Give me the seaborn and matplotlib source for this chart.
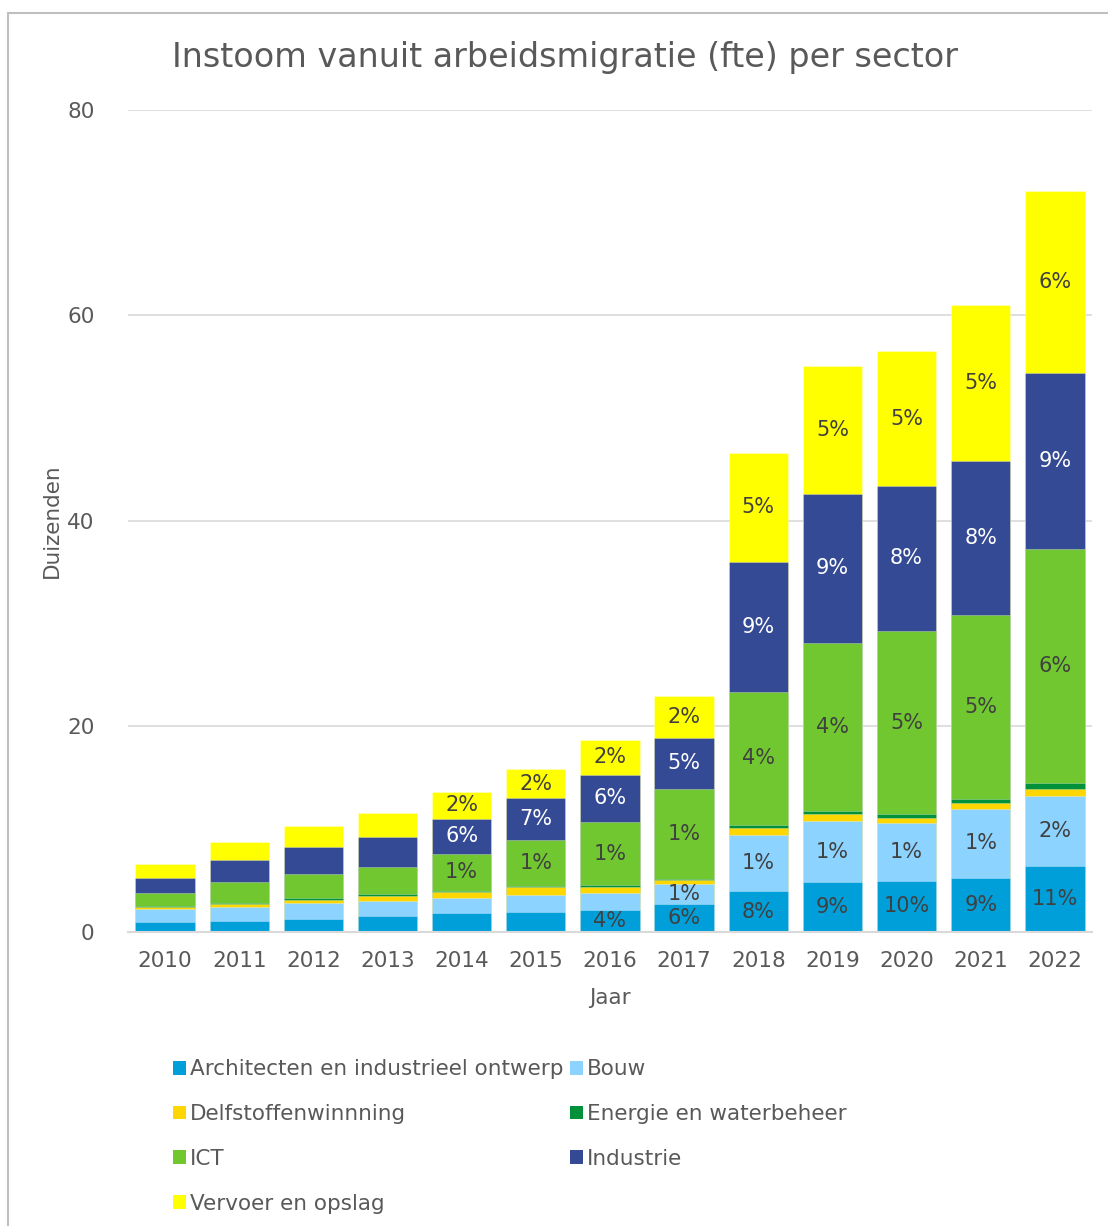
"""
Instoom vanuit arbeidsmigratie (fte) per sector, 2010-2022
stacked bars drawn with seaborn barplot (cumulative totals, back to front)
"""
import matplotlib.pyplot as plt
from matplotlib.patches import Patch, Rectangle
import numpy as np
import pandas as pd
import seaborn as sns

years = [str(y) for y in range(2010, 2023)]
sectors = ["Architecten en industrieel ontwerp", "Bouw", "Delfstoffenwinnning",
           "Energie en waterbeheer", "ICT", "Industrie", "Vervoer en opslag"]
colors = ["#009fda", "#8dd3ff", "#ffd700", "#00913a", "#70c72f", "#354a94", "#ffff00"]

# values in duizenden fte
architecten = [0.95, 1.04, 1.27, 1.52, 1.88, 1.98, 2.14, 2.72, 3.99, 4.83, 4.99, 5.28, 6.42]
bouw = [1.30, 1.42, 1.55, 1.52, 1.46, 1.62, 1.69, 1.91, 5.45, 5.97, 5.58, 6.72, 6.82]
delfstoffen = [0.20, 0.23, 0.32, 0.42, 0.58, 0.74, 0.58, 0.43, 0.71, 0.71, 0.55, 0.52, 0.68]
energie = [0.05, 0.13, 0.19, 0.23, 0.10, 0.17, 0.16, 0.13, 0.29, 0.29, 0.39, 0.45, 0.58]
ict = [1.30, 2.07, 2.34, 2.66, 3.57, 4.47, 6.14, 8.75, 12.92, 16.33, 17.75, 17.88, 22.77]
industrie = [1.50, 2.14, 2.60, 2.89, 3.44, 4.02, 4.57, 4.97, 12.68, 14.53, 14.18, 14.99, 17.16]
vervoer = [1.30, 1.75, 2.05, 2.36, 2.62, 2.86, 3.41, 4.06, 10.61, 12.44, 13.06, 15.16, 17.67]

# percentage labels shown in the segments ("" = no label)
lbl_architecten = ["", "", "", "", "", "", "4%", "6%", "8%", "9%", "10%", "9%", "11%"]
lbl_bouw = ["", "", "", "", "", "", "", "1%", "1%", "1%", "1%", "1%", "2%"]
lbl_delfstoffen = [""] * 13
lbl_energie = [""] * 13
lbl_ict = ["", "", "", "", "1%", "1%", "1%", "1%", "4%", "4%", "5%", "5%", "6%"]
lbl_industrie = ["", "", "", "", "6%", "7%", "6%", "5%", "9%", "9%", "8%", "8%", "9%"]
lbl_vervoer = ["", "", "", "", "2%", "2%", "2%", "2%", "5%", "5%", "5%", "5%", "6%"]

series = [architecten, bouw, delfstoffen, energie, ict, industrie, vervoer]
labels = [lbl_architecten, lbl_bouw, lbl_delfstoffen, lbl_energie, lbl_ict, lbl_industrie, lbl_vervoer]

df = pd.DataFrame(dict(zip(sectors, series)), index=years)
cum = df.cumsum(axis=1)

sns.set_theme(style="white")
plt.rcParams["font.family"] = ["DejaVu Sans"]
TXT = "#595959"
FS = 15.5

fig = plt.figure(figsize=(11.08, 12.26), dpi=100)
ax = fig.add_axes([0.1155, 0.2398, 0.870, 0.6705])

# draw from the top of the stack downwards so lower segments cover upper ones
for i in range(len(sectors) - 1, -1, -1):
    sns.barplot(x=years, y=cum[sectors[i]].values, color=colors[i], saturation=1,
                width=0.8, edgecolor=(1, 1, 1, 0.35), linewidth=0.6, ax=ax, zorder=2)

# segment labels
for i, s in enumerate(sectors):
    mids = cum[s].values - df[s].values / 2
    tcol = "white" if s == "Industrie" else "#404040"
    for j, lab in enumerate(labels[i]):
        if lab:
            ax.text(j, mids[j], lab, ha="center", va="center", fontsize=15,
                    color=tcol, zorder=5)

ax.set_ylim(0, 80)
ax.set_xlim(-0.5, 12.5)
ax.set_yticks([0, 20, 40, 60, 80])
ax.yaxis.grid(True, color="#d9d9d9", linewidth=1.2, zorder=0)
ax.set_axisbelow(True)
for side in ["top", "right", "left"]:
    ax.spines[side].set_visible(False)
ax.spines["bottom"].set_color("#d9d9d9")
ax.spines["bottom"].set_linewidth(1.5)
ax.tick_params(axis="both", length=0, labelsize=FS, labelcolor=TXT)
ax.tick_params(axis="x", pad=14)
ax.tick_params(axis="y", pad=24)
ax.set_xlabel("Jaar", fontsize=FS, color=TXT, labelpad=12)
ax.set_ylabel("Duizenden", fontsize=FS, color=TXT, labelpad=4)

fig.text(0.51, 0.953, "Instoom vanuit arbeidsmigratie (fte) per sector",
         ha="center", va="center", fontsize=24, color=TXT)

# legend, row-wise order in two columns
order = [0, 2, 4, 6, 1, 3, 5]
handles = [Patch(facecolor=colors[k], edgecolor="none", label=sectors[k]) for k in order]
fig.legend(handles=handles, ncol=2, loc="upper left", bbox_to_anchor=(0.148, 0.143),
           frameon=False, fontsize=FS, labelcolor=TXT, handlelength=0.6,
           handleheight=0.6, handletextpad=0.2, columnspacing=0.3,
           labelspacing=1.15, borderaxespad=0)

# chart area border
fig.patches.append(Rectangle((8 / 1108, -0.1), 1.2, 1.1 - 13 / 1226, transform=fig.transFigure,
                             fill=False, edgecolor="#bfbfbf", linewidth=1.5))

fig.savefig("out.png", dpi=100)
